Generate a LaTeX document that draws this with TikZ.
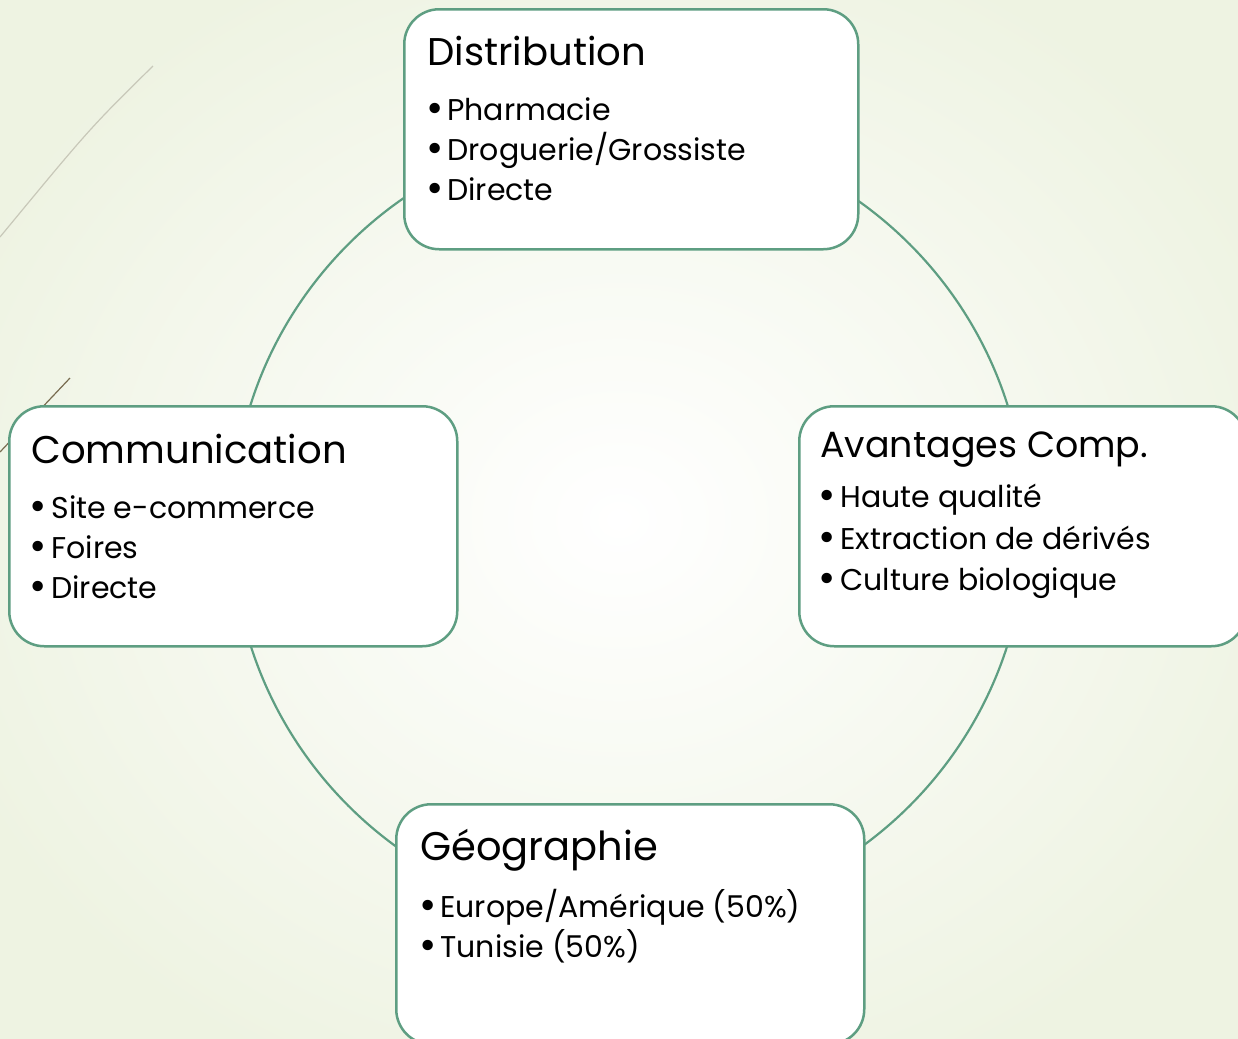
\documentclass[tikz,border=0pt]{standalone}
\usepackage{fontspec}
\setmainfont{Poppins}
\definecolor{edge}{RGB}{94,158,130}
\definecolor{bgout}{RGB}{238,243,226}
\definecolor{deco1}{RGB}{200,200,185}
\definecolor{deco2}{RGB}{120,108,80}
\newcommand{\bul}[1]{\makebox[#1][l]{\makebox[6pt][c]{\raisebox{-0.08em}{\scalebox{1.4}{•}}}}}
\begin{document}
\begin{tikzpicture}[x=0.5pt,y=-0.5pt,
  box/.style={draw=edge, line width=1.25pt, fill=white, rounded corners=17.5pt, inner sep=0pt, anchor=north west},
  ttl/.style={anchor=base west, inner sep=0pt, font=\fontsize{19.3}{24}\selectfont},
  itm/.style={anchor=base west, inner sep=0pt, font=\fontsize{15}{18}\selectfont}]
\useasboundingbox (0,0) rectangle (1238,1039);
\shade[inner color=white, outer color=bgout] (-100,-100) rectangle (1338,1139);
% decorative lines
\draw[deco1, line width=0.6pt] (153,66) .. controls (90,128) .. (0,237);
\draw[deco2, line width=0.6pt] (70,378) -- (0,452);
% ring
\draw[edge, line width=1.1pt] (629,525) circle [radius=397];
% boxes
\node[box, minimum width=227pt, minimum height=120pt] (dist) at (403,8) {};
\node[box, minimum width=224pt, minimum height=120pt] (comm) at (8,405) {};
\node[box, minimum width=223.5pt, minimum height=120pt] (avan) at (798,405) {};
\node[box, minimum width=234pt, minimum height=120pt] (geo) at (395,803) {};
% texts
\node[ttl] (dt) at (427,65) {Distribution};
\node[itm] (d1) at (429,120) {\bul{9pt}Pharmacie};
\node[itm] (d2) at (429,160) {\bul{9pt}Droguerie/Grossiste};
\node[itm] (d3) at (429,200) {\bul{9pt}Directe};
\node[ttl] (ct) at (31,463) {Communication};
\node[itm] (c1) at (32,518) {\bul{9.5pt}Site e-commerce};
\node[itm] (c2) at (32,558) {\bul{9.5pt}Foires};
\node[itm] (c3) at (32,598) {\bul{9.5pt}Directe};
\node[ttl, font=\fontsize{18.2}{22}\selectfont] (at) at (820,457) {Avantages Comp.};
\node[itm] (a1) at (821,507) {\bul{9.5pt}Haute qualité};
\node[itm] (a2) at (821,549) {\bul{9.5pt}Extraction de dérivés};
\node[itm] (a3) at (821,590) {\bul{9.5pt}Culture biologique};
\node[ttl, font=\fontsize{20}{24}\selectfont] (gt) at (420,860) {Géographie};
\node[itm] (g1) at (422,917) {\bul{9pt}Europe/Amérique (50\%)};
\node[itm] (g2) at (422,957) {\bul{9pt}Tunisie (50\%)};
\end{tikzpicture}
\end{document}
